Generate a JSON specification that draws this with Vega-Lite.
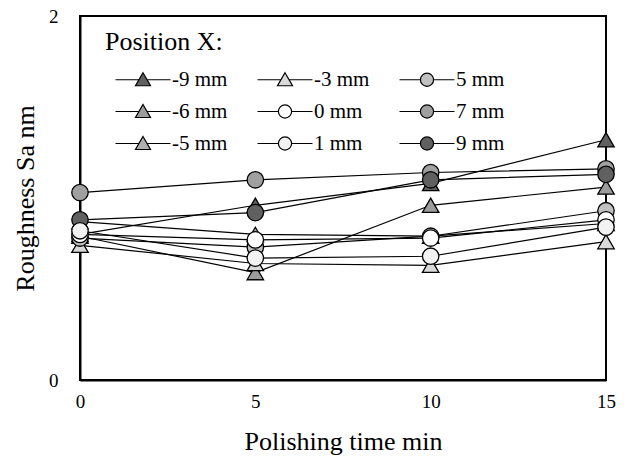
{
  "$schema": "https://vega.github.io/schema/vega-lite/v6.json",
  "width": 526,
  "height": 364,
  "autosize": {"type": "none"},
  "padding": {"left": 80, "top": 16, "right": 22, "bottom": 82},
  "background": "white",
  "config": {
    "font": "Liberation Serif",
    "view": {"stroke": "black", "strokeWidth": 2},
    "axis": {
      "labelFont": "Liberation Serif",
      "titleFont": "Liberation Serif",
      "labelColor": "black",
      "titleColor": "black",
      "grid": false,
      "ticks": false,
      "labelFlush": false,
      "domainColor": "black",
      "domainWidth": 2,
      "labelFontSize": 19,
      "titleFontSize": 26,
      "titleFontWeight": "normal"
    },
    "legend": {
      "labelFont": "Liberation Serif",
      "titleFont": "Liberation Serif"
    }
  },
  "datasets": {
    "rough": [
      {"pos": "-9 mm", "t": 0, "sa": 0.80},
      {"pos": "-9 mm", "t": 5, "sa": 0.96},
      {"pos": "-9 mm", "t": 10, "sa": 1.08},
      {"pos": "-9 mm", "t": 15, "sa": 1.32},
      {"pos": "-6 mm", "t": 0, "sa": 0.79},
      {"pos": "-6 mm", "t": 5, "sa": 0.59},
      {"pos": "-6 mm", "t": 10, "sa": 0.96},
      {"pos": "-6 mm", "t": 15, "sa": 1.06},
      {"pos": "-5 mm", "t": 0, "sa": 0.87},
      {"pos": "-5 mm", "t": 5, "sa": 0.80},
      {"pos": "-5 mm", "t": 10, "sa": 0.79},
      {"pos": "-5 mm", "t": 15, "sa": 0.86},
      {"pos": "-3 mm", "t": 0, "sa": 0.74},
      {"pos": "-3 mm", "t": 5, "sa": 0.64},
      {"pos": "-3 mm", "t": 10, "sa": 0.63},
      {"pos": "-3 mm", "t": 15, "sa": 0.76},
      {"pos": "5 mm", "t": 0, "sa": 0.78},
      {"pos": "5 mm", "t": 5, "sa": 0.73},
      {"pos": "5 mm", "t": 10, "sa": 0.79},
      {"pos": "5 mm", "t": 15, "sa": 0.93},
      {"pos": "7 mm", "t": 0, "sa": 1.03},
      {"pos": "7 mm", "t": 5, "sa": 1.10},
      {"pos": "7 mm", "t": 10, "sa": 1.14},
      {"pos": "7 mm", "t": 15, "sa": 1.16},
      {"pos": "9 mm", "t": 0, "sa": 0.88},
      {"pos": "9 mm", "t": 5, "sa": 0.92},
      {"pos": "9 mm", "t": 10, "sa": 1.10},
      {"pos": "9 mm", "t": 15, "sa": 1.13},
      {"pos": "0 mm", "t": 0, "sa": 0.80},
      {"pos": "0 mm", "t": 5, "sa": 0.77},
      {"pos": "0 mm", "t": 10, "sa": 0.78},
      {"pos": "0 mm", "t": 15, "sa": 0.88},
      {"pos": "1 mm", "t": 0, "sa": 0.82},
      {"pos": "1 mm", "t": 5, "sa": 0.67},
      {"pos": "1 mm", "t": 10, "sa": 0.68},
      {"pos": "1 mm", "t": 15, "sa": 0.84}
    ]
  },
  "data": {"name": "rough"},
  "encoding": {
    "x": {"field": "t", "type": "quantitative", "scale": {"domain": [0, 15]},
          "axis": {"values": [0, 5, 10, 15], "format": "d", "title": "Polishing time min", "labelPadding": 12, "titlePadding": 17}},
    "y": {"field": "sa", "type": "quantitative", "scale": {"domain": [0, 2]},
          "axis": {"values": [0, 1, 2], "format": "d", "title": "Roughness Sa nm", "labelPadding": 22, "titlePadding": 10}}
  },
  "layer": [
    {
      "mark": {"type": "line", "color": "black", "strokeWidth": 1.2},
      "encoding": {"detail": {"field": "pos"}}
    },
    {
      "transform": [{"filter": "false"}],
      "mark": {"type": "point", "filled": true, "stroke": "black", "strokeWidth": 1.2, "opacity": 1},
      "encoding": {
        "fill": {
          "field": "pos",
          "type": "nominal",
          "scale": {
            "domain": ["-9 mm", "-6 mm", "-5 mm", "-3 mm", "0 mm", "1 mm", "5 mm", "7 mm", "9 mm"],
            "range": ["#606060", "#9c9c9c", "#b0b0b0", "#d9d9d9", "#ffffff", "#f2f2f2", "#c0c0c0", "#a0a0a0", "#606060"]
          },
          "legend": {
            "title": "Position X:",
            "orient": "none",
            "legendX": 25,
            "legendY": 13,
            "columns": 3,
            "columnPadding": 19,
            "rowPadding": 10,
            "padding": 0,
            "titleFontSize": 26,
            "titleFontWeight": "normal",
            "titleColor": "black",
            "titlePadding": 14,
            "labelFontSize": 21,
            "labelColor": "black",
            "labelOffset": 46,
            "symbolSize": 256,
            "symbolStrokeColor": "black",
            "symbolStrokeWidth": 1.2,
            "symbolOpacity": 1,
            "encode": {
              "symbols": {
                "update": {
                  "stroke": {"value": "black"},
                  "strokeWidth": {"value": 1.2},
                  "opacity": {"value": 1}
                }
              }
            }
          }
        },
        "shape": {
          "field": "pos",
          "type": "nominal",
          "scale": {
            "domain": ["-9 mm", "-6 mm", "-5 mm", "-3 mm", "0 mm", "1 mm", "5 mm", "7 mm", "9 mm"],
            "range": [
              "M0,0H2.94M3.94,0H6.875M3.4375,-0.875L4.375,0.75L2.5,0.75Z",
              "M0,0H2.94M3.94,0H6.875M3.4375,-0.875L4.375,0.75L2.5,0.75Z",
              "M0,0H2.94M3.94,0H6.875M3.4375,-0.875L4.375,0.75L2.5,0.75Z",
              "M0,0H2.94M3.94,0H6.875M3.4375,-0.875L4.375,0.75L2.5,0.75Z",
              "M0,0H2.6125M4.2625,0H6.875M2.6125,0A0.825,0.825,0,1,1,4.2625,0A0.825,0.825,0,1,1,2.6125,0Z",
              "M0,0H2.6125M4.2625,0H6.875M2.6125,0A0.825,0.825,0,1,1,4.2625,0A0.825,0.825,0,1,1,2.6125,0Z",
              "M0,0H2.6125M4.2625,0H6.875M2.6125,0A0.825,0.825,0,1,1,4.2625,0A0.825,0.825,0,1,1,2.6125,0Z",
              "M0,0H2.6125M4.2625,0H6.875M2.6125,0A0.825,0.825,0,1,1,4.2625,0A0.825,0.825,0,1,1,2.6125,0Z",
              "M0,0H2.6125M4.2625,0H6.875M2.6125,0A0.825,0.825,0,1,1,4.2625,0A0.825,0.825,0,1,1,2.6125,0Z"
            ]
          },
          "legend": {
            "title": "Position X:",
            "orient": "none",
            "legendX": 25,
            "legendY": 13,
            "columns": 3,
            "columnPadding": 19,
            "rowPadding": 10,
            "padding": 0,
            "titleFontSize": 26,
            "titleFontWeight": "normal",
            "titleColor": "black",
            "titlePadding": 14,
            "labelFontSize": 21,
            "labelColor": "black",
            "labelOffset": 46,
            "symbolSize": 256,
            "symbolStrokeColor": "black",
            "symbolStrokeWidth": 1.2,
            "symbolOpacity": 1,
            "encode": {
              "symbols": {
                "update": {
                  "stroke": {"value": "black"},
                  "strokeWidth": {"value": 1.2},
                  "opacity": {"value": 1}
                }
              }
            }
          }
        }
      }
    },
    {
      "transform": [{"filter": "indexof(['-9 mm','-6 mm','-5 mm','-3 mm'], datum.pos) >= 0"}],
      "mark": {"type": "point", "shape": "triangle-up", "filled": true, "stroke": "black", "strokeWidth": 1.3, "size": 270, "opacity": 1},
      "encoding": {
        "fill": {"field": "pos", "type": "nominal", "legend": null}
      }
    },
    {
      "transform": [{"filter": "indexof(['-9 mm','-6 mm','-5 mm','-3 mm'], datum.pos) < 0"}],
      "mark": {"type": "point", "shape": "circle", "filled": true, "stroke": "black", "strokeWidth": 1.3, "size": 270, "opacity": 1},
      "encoding": {
        "fill": {"field": "pos", "type": "nominal", "legend": null}
      }
    }
  ]
}
